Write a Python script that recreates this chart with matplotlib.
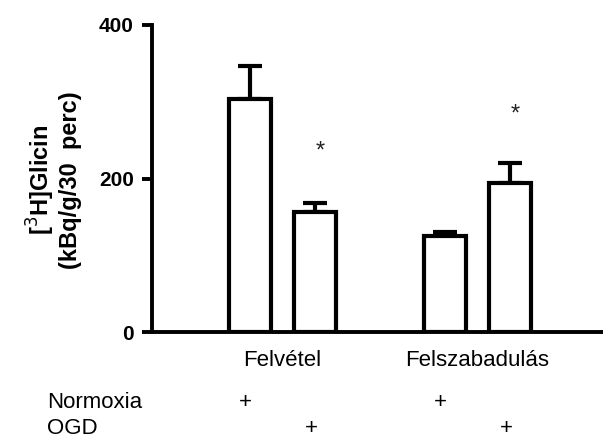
import matplotlib
matplotlib.use("Agg")
import matplotlib.pyplot as plt
import matplotlib.transforms as mtransforms

plt.rcParams['font.family'] = ['Liberation Sans', 'DejaVu Sans']

# Data
groups = ["Felvétel", "Felszabadulás"]
positions = [0, 1, 3, 4]
values = [303, 156, 125, 194]
errors = [43, 12, 5, 26]
significant = [False, True, False, True]
star_levels = [None, 235, None, 283]
normoxia = ["+", "", "+", ""]
ogd = ["", "+", "", "+"]
yticks = [0, 200, 400]

W, H = 603, 441
fig = plt.figure(figsize=(W / 100, H / 100), dpi=100)
ax = fig.add_axes([152 / W, 1 - 332 / H, 1 - 152 / W, (332 - 25) / H])

ax.bar(positions, values, width=0.65, color="white", edgecolor="black",
       linewidth=3, zorder=2)
ax.errorbar(positions, values, yerr=[[0] * len(errors), errors], fmt="none",
            ecolor="black", elinewidth=3, capsize=8.8, capthick=3, zorder=1)

for p, s, lvl in zip(positions, significant, star_levels):
    if s:
        ax.text(p + 0.08, lvl, "*", ha="center", va="center", fontsize=17,
                color="#222222")

ax.set_xlim(-1.51, 5.43)
ax.set_ylim(0, 400)
ax.set_yticks(yticks)
ax.set_yticklabels([str(t) for t in yticks], fontsize=15, fontweight="bold")
ax.set_xticks([])
for side in ("top", "right"):
    ax.spines[side].set_visible(False)
for side in ("left", "bottom"):
    ax.spines[side].set_linewidth(2.8)
ax.tick_params(axis="y", length=7, width=2.8, pad=6)

# y label
fig.text(53 / W, 1 - 180 / H, "[$^{3}$H]Glicin\n(kBq/g/30  perc)", fontsize=17,
         fontweight="bold", linespacing=1.1, rotation=90, ha="center",
         va="center", multialignment="center")

trans = mtransforms.blended_transform_factory(ax.transData, fig.transFigure)
group_centers = [(positions[0] + positions[1]) / 2, (positions[2] + positions[3]) / 2]
for gc, g in zip(group_centers, groups):
    ax.text(gc, 1 - 361 / H, g, transform=trans, ha="center", va="center",
            fontsize=16)

fig.text(47 / W, 1 - 402 / H, "Normoxia", ha="left", va="center", fontsize=16)
fig.text(47 / W, 1 - 429 / H, "OGD", ha="left", va="center", fontsize=16)
for p, n, o in zip(positions, normoxia, ogd):
    if n:
        ax.text(p - 0.08, 1 - 402 / H, n, transform=trans, ha="center",
                va="center", fontsize=16)
    if o:
        ax.text(p - 0.05, 1 - 429 / H, o, transform=trans, ha="center",
                va="center", fontsize=16)

fig.savefig("out.png", dpi=100)
